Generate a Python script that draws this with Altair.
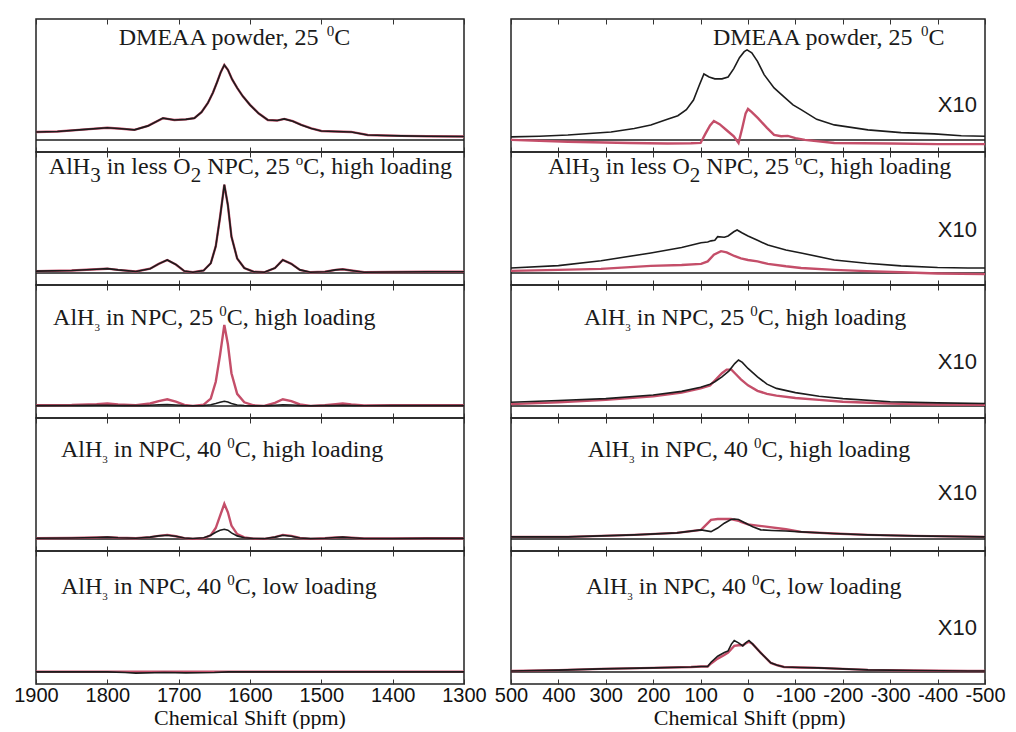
import altair as alt
import pandas as pd

# ---------------- spectra, left column (1900 - 1300 ppm) ----------------
L1_PPM = [1900, 1870, 1835, 1800, 1780, 1762, 1743, 1722, 1706, 1690, 1678, 1668, 1659,
          1652, 1646, 1641, 1636, 1631, 1625, 1618, 1610, 1600, 1588, 1575, 1562, 1552,
          1540, 1528, 1514, 1500, 1480, 1458, 1435, 1410, 1388, 1350, 1300]
L1_INT = [0.66, 0.7, 0.85, 1.0, 0.92, 0.83, 1.16, 1.8, 1.65, 1.7, 1.8, 2.3, 3.06,
          3.9, 4.8, 5.6, 6.2, 5.8, 5.0, 4.3, 3.6, 2.9, 2.2, 1.65, 1.6, 1.74,
          1.55, 1.24, 0.95, 0.74, 0.7, 0.66, 0.41, 0.36, 0.33, 0.3, 0.28]

L_PPM = [1900, 1850, 1815, 1800, 1785, 1760, 1740, 1728, 1716, 1704,
         1692, 1680, 1665, 1655, 1648, 1642, 1636, 1631, 1626, 1618,
         1608, 1595, 1580, 1565, 1554, 1542, 1530, 1515, 1495, 1480,
         1470, 1458, 1440, 1400, 1350, 1300]
L2_INT = [0.15, 0.2, 0.3, 0.35, 0.25, 0.12, 0.35, 0.75, 1.07, 0.7,
          0.15, 0.05, 0.2, 0.8, 2.2, 4.6, 7.3, 5.6, 3.0, 1.2,
          0.4, 0.1, 0.05, 0.4, 1.07, 0.75, 0.25, 0.05, 0.1, 0.25,
          0.3, 0.2, 0.05, 0.08, 0.1, 0.1]
L3_RED = [0.05, 0.08, 0.15, 0.2, 0.12, 0.05, 0.2, 0.4, 0.55, 0.35,
          0.08, 0.0, 0.1, 0.6, 2.0, 4.2, 6.7, 5.1, 2.7, 1.0,
          0.3, 0.05, 0.0, 0.25, 0.55, 0.4, 0.12, 0.0, 0.05, 0.15,
          0.2, 0.12, 0.03, 0.05, 0.05, 0.05]
L3_BLACK = [0.02, 0.03, 0.05, 0.06, 0.04, 0.02, 0.05, 0.1, 0.12, 0.08,
            0.03, 0.0, 0.03, 0.1, 0.2, 0.3, 0.38, 0.32, 0.2, 0.08,
            0.03, 0.0, 0.0, 0.05, 0.1, 0.08, 0.03, 0.0, 0.02, 0.04,
            0.05, 0.03, 0.01, 0.02, 0.02, 0.02]
L4_RED = [0.05, 0.08, 0.12, 0.15, 0.1, 0.05, 0.15, 0.25, 0.33, 0.22,
          0.06, 0.0, 0.05, 0.3, 0.9, 1.9, 2.9, 2.2, 1.1, 0.4,
          0.12, 0.02, 0.0, 0.15, 0.33, 0.25, 0.08, 0.0, 0.05, 0.12,
          0.15, 0.1, 0.03, 0.04, 0.05, 0.05]
L4_BLACK = [0.05, 0.08, 0.12, 0.15, 0.1, 0.05, 0.15, 0.25, 0.3, 0.22,
            0.08, 0.03, 0.1, 0.3, 0.55, 0.72, 0.8, 0.72, 0.5, 0.25,
            0.1, 0.03, 0.02, 0.15, 0.3, 0.22, 0.08, 0.02, 0.05, 0.12,
            0.15, 0.1, 0.03, 0.04, 0.05, 0.05]
L5_PPM = [1900, 1800, 1775, 1760, 1720, 1690, 1650, 1630, 1500, 1300]
L5_BLACK = [0.0, 0.0, -0.05, -0.1, -0.05, -0.08, -0.05, 0.0, 0.0, 0.0]
L5_RED = [0.02, 0.02, 0.02, 0.02, 0.02, 0.02, 0.02, 0.02, 0.02, 0.02]

# ---------------- spectra, right column (500 - -500 ppm, x10) ----------------
R1_BLACK_PPM = [500, 440, 380, 289, 240, 205, 170, 148, 130, 115,
                103, 93, 82, 70, 55, 42, 30, 18, 8, 2,
                -8, -20, -34, -55, -76, -95, -112, -145, -182, -253,
                -323, -393, -450, -500]
R1_BLACK = [0.25, 0.3, 0.4, 0.66, 0.95, 1.24, 1.7, 2.0, 2.5, 3.3,
            4.5, 5.45, 5.2, 5.05, 5.05, 5.2, 5.9, 6.8, 7.3, 7.45,
            7.2, 6.5, 5.4, 4.3, 3.56, 2.9, 2.5, 1.7, 1.24, 0.83,
            0.6, 0.5, 0.35, 0.3]
R1_RED_PPM = [500, 380, 250, 170, 120, 100, 90, 80, 72, 60,
              45, 30, 20, 12, 5, 0, -8, -21, -40, -55,
              -70, -84, -100, -120, -182, -300, -400, -500]
R1_RED = [0.0, -0.15, -0.25, -0.3, -0.28, -0.25, 0.5, 1.2, 1.57, 1.3,
          0.8, 0.3, -0.25, 1.0, 2.2, 2.56, 2.3, 1.8, 1.0, 0.41,
          0.3, 0.33, 0.15, 0.0, -0.25, -0.3, -0.35, -0.35]

R2_BLACK_PPM = [500, 400, 310, 205, 140, 99, 85, 78, 70, 64,
                50, 42, 30, 23, 12, 0, -20, -42, -80, -112,
                -182, -250, -323, -400, -464, -500]
R2_BLACK = [0.41, 0.6, 1.0, 1.65, 2.1, 2.5, 2.55, 2.65, 2.7, 3.0,
            2.95, 3.06, 3.4, 3.55, 3.3, 3.06, 2.7, 2.3, 1.9, 1.65,
            1.07, 0.8, 0.58, 0.45, 0.41, 0.4]
R2_RED_PPM = [500, 400, 310, 205, 140, 99, 85, 72, 57, 45, 29,
              15, 0, -20, -42, -80, -112, -182, -250, -323, -400, -500]
R2_RED = [0.17, 0.25, 0.33, 0.58, 0.65, 0.75, 0.95, 1.5, 1.8, 1.7, 1.4,
          1.2, 1.07, 0.95, 0.75, 0.55, 0.41, 0.25, 0.15, 0.05, -0.05, -0.1]

R3_BLACK_PPM = [500, 400, 300, 200, 140, 100, 80, 70, 55, 40, 28, 20,
                12, 0, -20, -40, -60, -100, -150, -200, -300, -400, -500]
R3_BLACK = [0.3, 0.45, 0.6, 0.9, 1.2, 1.55, 1.8, 2.0, 2.4, 2.9, 3.5, 3.8,
            3.6, 3.1, 2.4, 1.8, 1.45, 1.1, 0.8, 0.6, 0.35, 0.25, 0.2]
R3_RED_PPM = [500, 400, 300, 200, 140, 100, 80, 70, 55, 45, 35, 25,
              15, 0, -20, -40, -60, -100, -150, -200, -300, -400, -500]
R3_RED = [0.15, 0.3, 0.5, 0.8, 1.1, 1.45, 1.7, 2.1, 2.7, 3.0, 3.0, 2.6,
          2.2, 1.7, 1.25, 1.0, 0.85, 0.65, 0.5, 0.35, 0.2, 0.12, 0.1]

R4_BLACK_PPM = [500, 380, 240, 150, 99, 78, 64, 50, 36, 29, 20,
                10, -10, -27, -50, -80, -112, -180, -253, -350, -500]
R4_BLACK = [0.17, 0.17, 0.33, 0.5, 0.75, 0.6, 0.9, 1.3, 1.6, 1.65, 1.6,
            1.4, 1.0, 0.75, 0.7, 0.65, 0.58, 0.45, 0.33, 0.25, 0.17]
R4_RED_PPM = [500, 380, 240, 150, 99, 78, 64, 50, 36, 20,
              15, 0, -20, -42, -80, -112, -180, -253, -350, -500]
R4_RED = [0.17, 0.17, 0.33, 0.5, 0.75, 1.57, 1.65, 1.65, 1.65, 1.5,
          1.4, 1.2, 1.1, 1.0, 0.8, 0.58, 0.45, 0.33, 0.25, 0.17]

R5_PPM = [500, 400, 310, 200, 120, 99, 85, 78, 64, 50,
          42, 35, 29, 20, 11, 5, -2, -10, -27, -48,
          -62, -76, -110, -148, -200, -253, -350, -464, -500]
R5_BLACK = [0.08, 0.15, 0.25, 0.33, 0.41, 0.45, 0.45, 0.8, 1.3, 1.6,
            1.74, 2.3, 2.6, 2.4, 2.15, 2.4, 2.6, 2.3, 1.57, 0.75,
            0.55, 0.41, 0.36, 0.33, 0.25, 0.17, 0.12, 0.08, 0.08]
R5_RED = [0.08, 0.15, 0.25, 0.33, 0.41, 0.45, 0.45, 0.7, 1.1, 1.4,
          1.6, 1.9, 2.15, 2.2, 2.2, 2.35, 2.5, 2.3, 1.57, 0.75,
          0.55, 0.41, 0.36, 0.33, 0.25, 0.17, 0.12, 0.08, 0.08]

# ---------------- panel captions (text, style) ----------------
CAPTIONS = [
    [("DMEAA powder, 25 ", "n"), ("0", "sup"), ("C", "n")],
    [("AlH", "n"), ("3", "subL"), (" in less O", "n"), ("2", "subL"),
     (" NPC, 25 ", "n"), ("o", "sup"), ("C, high loading", "n")],
    [("AlH", "n"), ("3", "sub"), (" in NPC, 25 ", "n"), ("0", "sup"), ("C, high loading", "n")],
    [("AlH", "n"), ("3", "sub"), (" in NPC, 40 ", "n"), ("0", "sup"), ("C, high loading", "n")],
    [("AlH", "n"), ("3", "sub"), (" in NPC, 40 ", "n"), ("0", "sup"), ("C, low loading", "n")],
]
CAPTION_X_LEFT = [1784, 1882, 1876, 1865, 1865]
CAPTION_X_RIGHT = [74, 422, 346, 338, 342]
CAPTION_Y = [7.85, 8.2, 6.7, 6.8, 6.45]
SCALE_LABEL = "X10"
SCALE_LABEL_X = -483
SCALE_LABEL_Y = [2.3, 2.97, 3.05, 3.2, 3.05]

LEFT_TICKS = [1900, 1800, 1700, 1600, 1500, 1400, 1300]
RIGHT_TICKS = [500, 400, 300, 200, 100, 0, -100, -200, -300, -400, -500]
Y_TICKS = [-1, 0, 1, 2, 3, 4, 5, 6, 7, 8, 9, 10]
X_TITLE = "Chemical Shift (ppm)"

# ---------------- geometry and styling ----------------
W_LEFT, W_RIGHT, H = 428, 474, 133
Y_DOMAIN = [-1, 10]
SERIF = "Liberation Serif"
SANS = "Liberation Sans"
INK = "#1c1c1c"
RED = "#c44e69"

# caption styles: font size, baseline shift in px (up positive)
STYLES = {"n": (24, 0.0), "sup": (15, 9.0), "sub": (11, -6.0), "subL": (21, -8.0)}
TIMES_W = {" ": 250, ",": 250, "(": 333, ")": 333, "A": 722, "C": 667, "D": 722,
           "E": 611, "H": 722, "M": 889, "N": 722, "O": 722, "P": 556, "S": 556,
           "a": 444, "c": 444, "d": 500, "e": 444, "f": 333, "g": 500, "h": 500,
           "i": 278, "l": 278, "m": 778, "n": 500, "o": 500, "p": 500, "r": 333,
           "s": 389, "t": 278, "w": 722}


def text_width(s, size):
    return sum(TIMES_W.get(ch, 500) for ch in s) * size / 1000.0


def caption_frame(segments, start, base, span, width):
    px_per_ppm = width / span
    px_per_unit = H / (Y_DOMAIN[1] - Y_DOMAIN[0])
    rows, cursor = [], 0.0
    for text, style in segments:
        size, shift = STYLES[style]
        lead = len(text) - len(text.lstrip(" "))
        cursor += text_width(" " * lead, size)
        body = text.strip(" ")
        rows.append({"x": start - cursor / px_per_ppm,
                     "y": base + shift / px_per_unit,
                     "t": body, "fs": size})
        cursor += text_width(text.lstrip(" "), size)
    return pd.DataFrame(rows)


def curve(ppm, vals):
    return pd.DataFrame({"ppm": ppm, "v": vals})


LEFT_CURVES = [
    (curve(L1_PPM, L1_INT), curve(L1_PPM, L1_INT)),
    (curve(L_PPM, L2_INT), curve(L_PPM, L2_INT)),
    (curve(L_PPM, L3_BLACK), curve(L_PPM, L3_RED)),
    (curve(L_PPM, L4_BLACK), curve(L_PPM, L4_RED)),
    (curve(L5_PPM, L5_BLACK), curve(L5_PPM, L5_RED)),
]
RIGHT_CURVES = [
    (curve(R1_BLACK_PPM, R1_BLACK), curve(R1_RED_PPM, R1_RED)),
    (curve(R2_BLACK_PPM, R2_BLACK), curve(R2_RED_PPM, R2_RED)),
    (curve(R3_BLACK_PPM, R3_BLACK), curve(R3_RED_PPM, R3_RED)),
    (curve(R4_BLACK_PPM, R4_BLACK), curve(R4_RED_PPM, R4_RED)),
    (curve(R5_PPM, R5_BLACK), curve(R5_PPM, R5_RED)),
]


def panel(side, i):
    left = side == "left"
    lo, hi = (1300, 1900) if left else (-500, 500)
    width = W_LEFT if left else W_RIGHT
    ticks = LEFT_TICKS if left else RIGHT_TICKS
    last = i == 4
    xs = alt.Scale(domain=[lo, hi], reverse=True, nice=False, zero=False)
    ys = alt.Scale(domain=Y_DOMAIN, nice=False, zero=False)

    ax_bottom = alt.Axis(orient="bottom", offset=-5, tickSize=5, domain=False, grid=False,
                         values=ticks, labels=last, labelFlush=False, labelOverlap=False,
                         labelPadding=1, labelExpr="'' + datum.value",
                         labelFont=SANS, labelFontSize=20, labelColor="#111",
                         title=None)
    ax_top = alt.Axis(orient="top", offset=-5, tickSize=5, domain=False, grid=False,
                      values=ticks, labels=False, title=None)
    ax_y = alt.Axis(orient="left", values=Y_TICKS, tickSize=4, labels=False,
                    domain=False, grid=False, title=None)

    black_df, red_df = (LEFT_CURVES if left else RIGHT_CURVES)[i]

    zero = alt.Chart(pd.DataFrame({"v": [0]})).mark_rule(color=INK, strokeWidth=1.5).encode(
        y=alt.Y("v:Q", scale=ys, axis=None))
    red = alt.Chart(red_df).mark_line(color=RED, strokeWidth=2.4).encode(
        x=alt.X("ppm:Q", scale=xs, axis=ax_top),
        y=alt.Y("v:Q", scale=ys, axis=None))
    black = alt.Chart(black_df).mark_line(color=INK, strokeWidth=1.6).encode(
        x=alt.X("ppm:Q", scale=xs, axis=ax_bottom),
        y=alt.Y("v:Q", scale=ys, axis=ax_y))

    start = (CAPTION_X_LEFT if left else CAPTION_X_RIGHT)[i]
    cap_df = caption_frame(CAPTIONS[i], start, CAPTION_Y[i], hi - lo, width)
    caption = alt.Chart(cap_df).mark_text(font=SERIF, align="left", baseline="alphabetic",
                                          color="#1a1a1a").encode(
        x=alt.X("x:Q", scale=xs, axis=None),
        y=alt.Y("y:Q", scale=ys, axis=None),
        text="t:N",
        size=alt.Size("fs:Q", scale=None, legend=None))

    layers = [zero, red, black, caption]
    if not left:
        mult = alt.Chart(pd.DataFrame({"x": [SCALE_LABEL_X], "y": [SCALE_LABEL_Y[i]],
                                       "t": [SCALE_LABEL]})).mark_text(
            font=SANS, fontSize=22, align="right", baseline="alphabetic", color="#1a1a1a").encode(
            x=alt.X("x:Q", scale=xs, axis=None),
            y=alt.Y("y:Q", scale=ys, axis=None),
            text="t:N")
        layers.append(mult)

    return alt.layer(*layers).resolve_axis(x="independent").properties(width=width, height=H)


def column_title():
    return alt.TitleParams(X_TITLE, orient="bottom", anchor="middle", font=SERIF,
                           fontSize=22, fontWeight="normal", color="#111", offset=2)


left_col = alt.vconcat(*[panel("left", i) for i in range(5)], spacing=0, bounds="flush",
                       title=column_title())
right_col = alt.vconcat(*[panel("right", i) for i in range(5)], spacing=0, bounds="flush",
                        title=column_title())

# the outer row keeps full bounds so the columns sit side by side
chart = alt.hconcat(left_col, right_col, spacing=6).properties(
    padding={"left": 13, "top": 17, "right": 0, "bottom": 0},
    background="white",
).configure_view(
    stroke="#222", strokeWidth=1.5
).configure_axis(
    tickColor="#333", tickWidth=1
)

chart.save("out.html", embed_options={"renderer": "svg", "actions": False})
